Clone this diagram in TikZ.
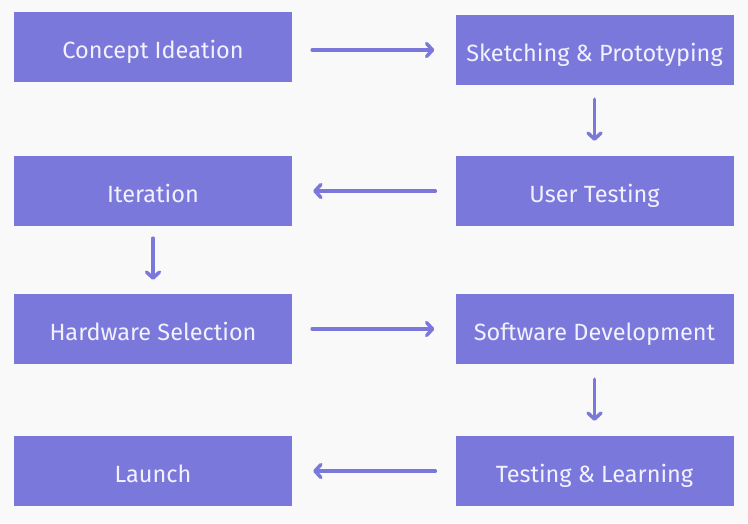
\documentclass[tikz,border=0pt]{standalone}
\usepackage{fontspec}
\setmainfont{Fira Sans}
\usetikzlibrary{arrows.meta}
\definecolor{boxc}{RGB}{123,120,220}
\definecolor{txtc}{RGB}{242,242,255}
\definecolor{bgc}{RGB}{249,249,249}
\tikzset{
  x=1pt, y=-1pt,
  stagebox/.style={rectangle, fill=boxc, draw=none, minimum width=278pt, minimum height=70pt,
    inner sep=0pt, text=txtc, text height=23pt, text depth=0pt,
    font=\fontsize{23.5}{26}\selectfont},
  flow/.style={draw=boxc, line width=3.5pt, line cap=round,
    -{Straight Barb[length=6pt,width=13pt,round]}}
}
\begin{document}
\begin{tikzpicture}
\fill[bgc] (0,0) rectangle (748,523);
\useasboundingbox (0,0) rectangle (748,523);
\node[stagebox] (c1) at (153,47) {Concept Ideation};
\node[stagebox] (c2) at (594.5,50) {Sketching \& Prototyping};
\node[stagebox] (c3) at (594.5,191) {User Testing};
\node[stagebox] (c4) at (153,191) {Iteration};
\node[stagebox] (c5) at (153,329) {Hardware Selection};
\node[stagebox] (c6) at (594.5,329) {Software Development};
\node[stagebox] (c7) at (594.5,471) {Testing \& Learning};
\node[stagebox] (c8) at (153,471) {Launch};
\draw[flow, shorten <=20pt, shorten >=21pt] (c1.east |- c2.west) -- (c2.west);
\draw[flow, shorten <=14pt, shorten >=15pt] (c2.south) -- (c3.north);
\draw[flow, shorten <=20pt, shorten >=21pt] (c3.west) -- (c4.east);
\draw[flow, shorten <=12pt, shorten >=14pt] (c4.south) -- (c5.north);
\draw[flow, shorten <=20pt, shorten >=21pt] (c5.east) -- (c6.west);
\draw[flow, shorten <=15pt, shorten >=15pt] (c6.south) -- (c7.north);
\draw[flow, shorten <=20pt, shorten >=21pt] (c7.west) -- (c8.east);
\end{tikzpicture}
\end{document}
